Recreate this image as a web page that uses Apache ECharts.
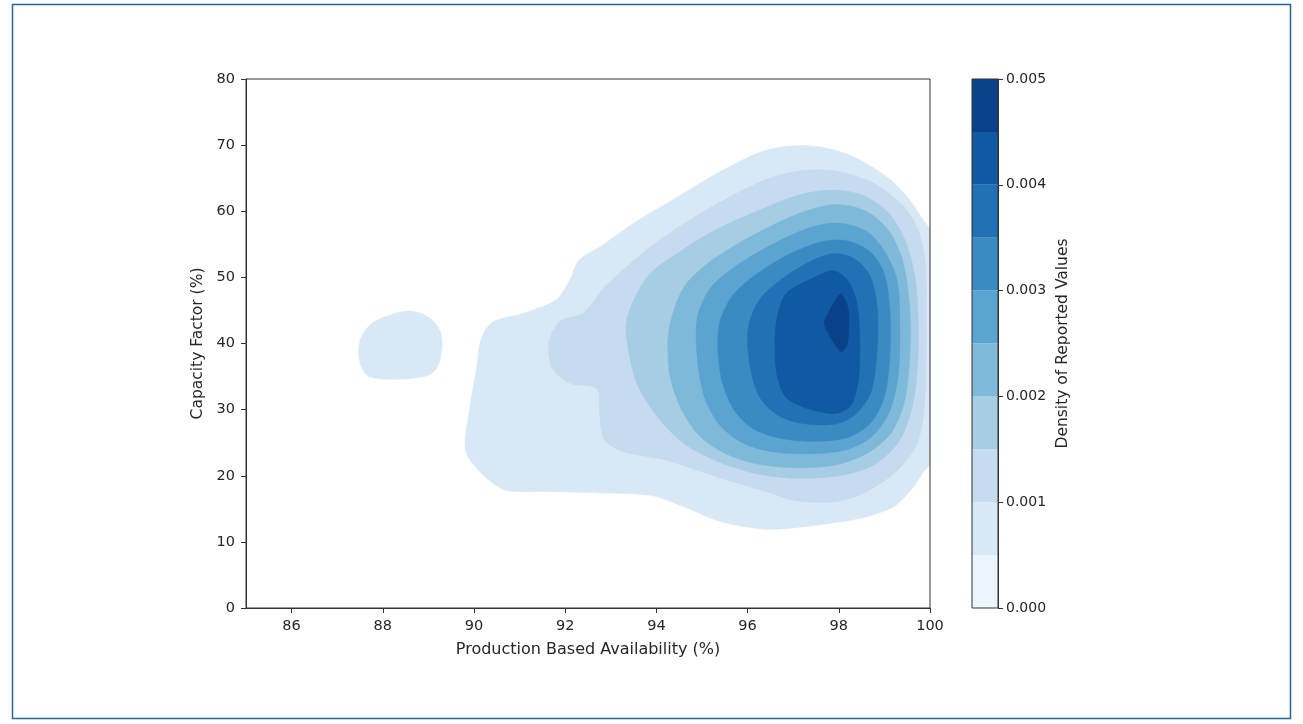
<!DOCTYPE html>
<html><head><meta charset="utf-8">
<script src="https://cdn.jsdelivr.net/npm/echarts@6/dist/echarts.min.js"></script>
<style>html,body{margin:0;padding:0;background:#fff}#c{width:1303px;height:724px}</style>
</head><body><div id="c"></div>
<script>
// ---------------- data ----------------
const xTicks = [86, 88, 90, 92, 94, 96, 98, 100];
const yTicks = [0, 10, 20, 30, 40, 50, 60, 70, 80];
const densityLevels = [0, 0.0005, 0.001, 0.0015, 0.002, 0.0025, 0.003, 0.0035, 0.004, 0.0045, 0.005];
const cbarTicks = [0, 0.001, 0.002, 0.003, 0.004, 0.005];

// contour outlines [availability %, capacity factor %] of region with density >= densityLevels[k]
const contourL1Main = [[96.3,69.0],[97.0,69.9],[97.6,69.7],[98.3,68.3],[99.05,65.2],[99.5,62.2],[99.85,58.7],[100,57],[100,22],[99.85,20.5],[99.6,18],[99.2,15.3],[98.5,13.6],[97.6,12.6],[96.6,11.9],[96.0,12.2],[95.3,13.3],[94.6,15.3],[93.9,17.0],[92.8,17.4],[91.5,17.6],[90.7,17.8],[90.3,19.5],[89.9,22.5],[89.8,24.5],[89.9,30],[90.05,36],[90.15,40.5],[90.4,43.2],[91.1,44.6],[91.8,46.6],[92.1,49.6],[92.3,52.6],[92.8,54.8],[93.5,58.2],[94.4,61.9],[95.4,66.0]];
const contourL1Island = [[87.5,40.5],[87.75,43.0],[88.2,44.4],[88.6,44.9],[89.0,44.0],[89.25,42.0],[89.3,39.5],[89.2,36.5],[89.0,35.2],[88.4,34.6],[87.7,35.0],[87.5,37.0]];
const contourL2 = [[91.65,40.5],[91.9,43.4],[92.4,44.6],[92.9,48.8],[93.9,54.8],[94.9,59.4],[95.9,63.2],[96.6,65.3],[97.3,66.2],[98.0,66.0],[98.8,64.1],[99.45,60.5],[99.75,57],[99.9,52],[99.92,45],[99.9,33],[99.75,25.5],[99.3,20.9],[98.5,17.2],[97.8,16.0],[97.0,16.3],[96.5,17.4],[95.3,19.9],[94.2,22.4],[93.3,23.6],[92.85,25.5],[92.75,30],[92.7,33.2],[92.1,34.0],[91.7,36.5]];
const contourL3 = [[93.35,43.6],[93.8,50.1],[94.45,53.6],[95.3,57.2],[96.27,60.2],[97.15,62.5],[97.95,63.2],[98.6,62.2],[99.12,59.5],[99.49,55],[99.7,48.6],[99.74,38.5],[99.63,31],[99.34,25.4],[98.83,21.9],[98.17,20.2],[97.15,19.6],[96.27,20.2],[95.4,22.0],[94.66,24.6],[94.08,28.4],[93.6,33.5],[93.4,38.5]];
const contourL4 = [[94.3,43],[94.6,48.5],[95.2,52.5],[96.1,56.3],[97.1,59.6],[97.9,61.0],[98.6,60.0],[99.1,57.0],[99.4,52.5],[99.55,46],[99.56,38.5],[99.45,31.5],[99.15,26.5],[98.6,23.3],[97.9,21.6],[97.0,21.2],[96.2,21.8],[95.5,23.4],[94.95,26.0],[94.55,30.0],[94.3,35],[94.25,39.5]];
const contourL5 = [[94.9,44],[95.2,48.5],[95.8,52],[96.6,55.2],[97.4,57.6],[98.0,58.2],[98.6,57.0],[99.0,54.0],[99.28,49.5],[99.34,42],[99.3,35],[99.1,29.5],[98.7,25.8],[98.1,23.8],[97.2,23.3],[96.4,23.8],[95.8,25.3],[95.35,28],[95.05,32],[94.9,37.5]];
const contourL6 = [[95.4,43.5],[95.7,47.5],[96.3,51],[97.0,53.8],[97.7,55.5],[98.2,55.5],[98.7,53.8],[99.0,50.5],[99.12,45],[99.12,38],[99.0,32],[98.7,28],[98.2,25.8],[97.4,25.2],[96.7,25.7],[96.1,27.2],[95.7,30],[95.45,34],[95.35,39]];
const contourL7 = [[96.05,43.5],[96.3,47],[96.8,50],[97.4,52.5],[97.9,53.6],[98.35,52.8],[98.7,50],[98.85,45],[98.83,38],[98.7,32.5],[98.35,29.2],[97.9,27.8],[97.2,27.9],[96.7,29],[96.3,31.5],[96.1,35],[96.0,40]];
const contourL8 = [[96.65,44],[96.85,47.6],[97.4,49.8],[97.88,51.0],[98.2,49.5],[98.4,46],[98.46,40],[98.42,34],[98.25,30.5],[97.9,29.4],[97.3,30.2],[96.85,31.8],[96.65,35],[96.6,40]];
const contourL9 = [[98.05,47.5],[98.2,45.5],[98.22,42.5],[98.18,39.8],[98.05,38.7],[97.9,40],[97.75,41.8],[97.68,43.2],[97.8,45],[97.95,46.8]];

const contourLevelIndex = [1, 1, 2, 3, 4, 5, 6, 7, 8, 9];
const contourOutlines = [contourL1Main, contourL1Island, contourL2, contourL3, contourL4, contourL5, contourL6, contourL7, contourL8, contourL9];

// ---------------- styles ----------------
const bandColors = ['#edf5fc','#d9e8f5','#c6dbef','#a6cde4','#7fb9da','#5ba3d0','#3b8bc3','#2171b5','#1159a3','#0a428a'];
const FONT = 'DejaVu Sans';
const TXT = '#262626';
const LINE = '#333';

const chart = echarts.init(document.getElementById('c'), null, {renderer: 'canvas'});

const bands = [];
for (let i = 0; i < densityLevels.length - 1; i++) bands.push([0, densityLevels[i], densityLevels[i + 1]]);

chart.setOption({
  animation: false,
  backgroundColor: '#fff',
  textStyle: {fontFamily: FONT},
  graphic: [{
    type: 'rect', silent: true, z: 100,
    shape: {x: 12.5, y: 4.5, width: 1278, height: 714},
    style: {fill: 'none', stroke: '#2a6496', lineWidth: 1.5}
  }],
  grid: [
    {left: 246, top: 79, width: 684, height: 529, show: true, borderColor: LINE, borderWidth: 1, backgroundColor: 'transparent', z: 5},
    {left: 972, top: 79, width: 26, height: 529, show: true, borderColor: LINE, borderWidth: 1, backgroundColor: 'transparent', z: 5}
  ],
  xAxis: [
    {
      gridIndex: 0, type: 'value', min: 85, max: 100, z: 6,
      name: 'Production Based Availability (%)', nameLocation: 'middle', nameGap: 34,
      nameTextStyle: {fontFamily: FONT, fontSize: 16, color: TXT},
      axisLine: {show: true, onZero: false, lineStyle: {color: LINE, width: 1}},
      axisTick: {show: true, length: 5, lineStyle: {color: LINE}, customValues: xTicks},
      axisLabel: {fontFamily: FONT, fontSize: 14.5, color: TXT, margin: 11, customValues: xTicks},
      splitLine: {show: false}
    },
    {
      gridIndex: 1, type: 'category', data: [''], show: false
    }
  ],
  yAxis: [
    {
      gridIndex: 0, type: 'value', min: 0, max: 80, interval: 10, z: 6,
      name: 'Capacity Factor (%)', nameLocation: 'middle', nameGap: 38, nameRotate: 90,
      nameTextStyle: {fontFamily: FONT, fontSize: 15.5, color: TXT},
      axisLine: {show: true, onZero: false, lineStyle: {color: LINE, width: 1}},
      axisTick: {show: true, length: 5, lineStyle: {color: LINE}, customValues: yTicks},
      axisLabel: {fontFamily: FONT, fontSize: 14.5, color: TXT, margin: 11, customValues: yTicks},
      splitLine: {show: false}
    },
    {
      gridIndex: 1, type: 'value', min: 0, max: 0.005, interval: 0.001, position: 'right', z: 6,
      name: 'Density of Reported Values', nameLocation: 'middle', nameGap: 57, nameRotate: 90,
      nameTextStyle: {fontFamily: FONT, fontSize: 15.5, color: TXT},
      axisLine: {show: true, lineStyle: {color: LINE, width: 1}},
      axisTick: {show: true, length: 5, lineStyle: {color: LINE}, customValues: cbarTicks},
      axisLabel: {fontFamily: FONT, fontSize: 14, color: TXT, margin: 8, customValues: cbarTicks, formatter: v => Number(v).toFixed(3)},
      splitLine: {show: false}
    }
  ],
  series: [
    {
      type: 'custom', xAxisIndex: 0, yAxisIndex: 0, clip: true, silent: true, z: 2,
      data: contourOutlines.map((c, i) => [i]),
      encode: {x: 0},
      renderItem: function (params, api) {
        const pts = contourOutlines[params.dataIndex].map(p => api.coord(p));
        const col = bandColors[contourLevelIndex[params.dataIndex]];
        return {
          type: 'polygon',
          shape: {points: pts, smooth: 0.3},
          style: {fill: col, stroke: col, lineWidth: 0.5}
        };
      }
    },
    {
      type: 'custom', xAxisIndex: 1, yAxisIndex: 1, silent: true, z: 2,
      data: bands,
      encode: {x: 0, y: [1, 2]},
      renderItem: function (params, api) {
        const a = api.coord([0, api.value(1)]);
        const b = api.coord([0, api.value(2)]);
        const w = api.size([1, 0])[0];
        return {
          type: 'rect',
          shape: {x: a[0] - w / 2, y: b[1], width: w, height: a[1] - b[1]},
          style: {fill: bandColors[params.dataIndex]}
        };
      }
    }
  ]
});
</script>
</body></html>
